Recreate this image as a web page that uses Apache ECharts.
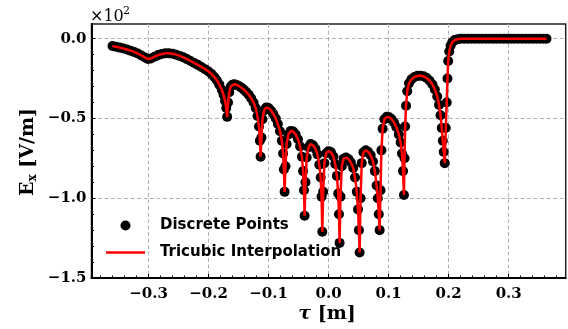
<!DOCTYPE html>
<html>
<head>
<meta charset="utf-8">
<script src="https://cdn.jsdelivr.net/npm/echarts@6/dist/echarts.min.js"></script>
<style>
html,body{margin:0;padding:0;background:#fff;}
#c{width:568px;height:329px;}
</style>
</head>
<body>
<div id="c"></div>
<script>
// tau [m]
const tau = [
-0.360,-0.354,-0.348,-0.342,-0.336,-0.330,-0.324,-0.318,-0.312,-0.306,-0.301,-0.296,-0.290,-0.284,-0.278,-0.272,-0.266,-0.260,-0.254,-0.248,-0.242,-0.236,-0.230,-0.224,-0.218,-0.212,-0.206,-0.200,-0.195,-0.190,-0.186,-0.182,-0.178,-0.175,-0.1725,-0.1705,-0.169,
-0.1675,-0.1655,-0.163,-0.160,-0.157,-0.153,-0.149,-0.145,-0.141,-0.137,-0.133,-0.129,-0.125,-0.1215,-0.1185,-0.116,-0.1145,-0.1133,
-0.1118,-0.1102,-0.1075,-0.104,-0.100,-0.096,-0.092,-0.088,-0.0845,-0.081,-0.078,-0.0758,-0.0745,-0.0733,
-0.0718,-0.0700,-0.0670,-0.0630,-0.0590,-0.0550,-0.0510,-0.0475,-0.0445,-0.0425,-0.0410,-0.0400,
-0.0385,-0.0365,-0.0335,-0.0300,-0.0260,-0.0220,-0.0185,-0.0155,-0.0132,-0.0117,-0.0105,
-0.0090,-0.0070,-0.0040,0.0000,0.0040,0.0080,0.0110,0.0138,0.0160,0.0173,0.0183,
0.0198,0.0220,0.0250,0.0290,0.0330,0.0370,0.0410,0.0440,0.0470,0.0490,0.0505,0.0517,
0.0532,0.0552,0.0580,0.0620,0.0660,0.0700,0.0740,0.0770,0.0800,0.0820,0.0836,0.0850,
0.0865,0.0880,0.0900,0.0930,0.0970,0.1010,0.1050,0.1090,0.1130,0.1170,0.1200,0.1222,0.1240,0.1255,
0.1265,0.1275,0.1290,0.1310,0.1340,0.1380,0.1430,0.1480,0.1530,0.1580,0.1630,0.1680,0.1730,0.1770,0.1810,0.1840,0.1865,0.1885,0.1903,0.1918,0.1935,
0.1952,0.1968,0.1980,0.1992,0.2010,0.2032,0.2060,0.2100,0.2150,0.2200,
0.226,0.232,0.238,0.244,0.250,0.256,0.262,0.268,0.274,0.280,0.286,0.292,0.298,0.304,0.310,0.316,0.322,0.328,0.334,0.340,0.346,0.352,0.358,0.363
];
// E_x [x10^2 V/m]
const ex = [
-0.046,-0.051,-0.056,-0.062,-0.068,-0.075,-0.083,-0.093,-0.105,-0.118,-0.127,-0.124,-0.113,-0.103,-0.096,-0.092,-0.092,-0.095,-0.100,-0.108,-0.117,-0.128,-0.140,-0.152,-0.164,-0.177,-0.191,-0.206,-0.222,-0.242,-0.262,-0.288,-0.320,-0.352,-0.390,-0.435,-0.490,
-0.400,-0.335,-0.300,-0.288,-0.285,-0.290,-0.298,-0.308,-0.320,-0.335,-0.352,-0.373,-0.400,-0.435,-0.485,-0.550,-0.640,-0.740,
-0.620,-0.505,-0.450,-0.432,-0.435,-0.450,-0.472,-0.500,-0.535,-0.580,-0.640,-0.720,-0.820,-0.960,
-0.800,-0.660,-0.600,-0.578,-0.582,-0.600,-0.630,-0.675,-0.740,-0.830,-0.950,-1.110,
-0.900,-0.745,-0.680,-0.660,-0.668,-0.690,-0.725,-0.790,-0.870,-0.990,-1.210,
-0.960,-0.780,-0.718,-0.705,-0.712,-0.738,-0.785,-0.860,-0.970,-1.100,-1.280,
-0.990,-0.800,-0.752,-0.745,-0.755,-0.775,-0.810,-0.870,-0.960,-1.070,-1.200,-1.340,
-1.000,-0.780,-0.712,-0.700,-0.710,-0.730,-0.770,-0.830,-0.920,-1.000,-1.100,-1.200,
-0.950,-0.700,-0.565,-0.505,-0.490,-0.493,-0.505,-0.525,-0.555,-0.600,-0.650,-0.720,-0.830,-0.980,
-0.750,-0.550,-0.420,-0.330,-0.280,-0.255,-0.240,-0.233,-0.232,-0.236,-0.245,-0.262,-0.287,-0.318,-0.362,-0.415,-0.480,-0.560,-0.640,-0.710,-0.780,
-0.560,-0.400,-0.250,-0.140,-0.080,-0.044,-0.022,-0.009,-0.003,0.000,
0.000,0.000,0.000,0.000,0.000,0.000,0.000,0.000,0.000,0.000,0.000,0.000,0.000,0.000,0.000,0.000,0.000,0.000,0.000,0.000,0.000,0.000,0.000,0.000
];
const xMajorTicks = [-0.3,-0.2,-0.1,0.0,0.1,0.2,0.3];
const xMinorTicks = [-0.38,-0.36,-0.34,-0.32,-0.28,-0.26,-0.24,-0.22,-0.18,-0.16,-0.14,-0.12,-0.08,-0.06,-0.04,-0.02,0.02,0.04,0.06,0.08,0.12,0.14,0.16,0.18,0.22,0.24,0.26,0.28,0.32,0.34,0.36,0.38];
const yMajorTicks = [-1.5,-1.0,-0.5,0.0];
const yMinorTicks = [-1.4,-1.3,-1.2,-1.1,-0.9,-0.8,-0.7,-0.6,-0.4,-0.3,-0.2,-0.1];
const seriesNames = ['Discrete Points','Tricubic Interpolation'];

const pts = tau.map((t,i)=>[t, ex[i]]);
const fmt = v => { const s = Math.abs(v).toFixed(1); return (v < -1e-9 ? '\u2212' : '') + s; };
const serif = "'DejaVu Serif', serif";
const sans = "'DejaVu Sans', sans-serif";
const gridLine = {show:true, lineStyle:{color:'#b0b0b0', width:1, type:[4,2.5]}};
const chart = echarts.init(document.getElementById('c'), null, {renderer:'canvas'});
const G = {left:91.5, top:24, width:474.2, height:254};
chart.setOption({
  animation:false,
  backgroundColor:'#fff',
  grid:[{left:G.left, top:G.top, width:G.width, height:G.height, show:true, borderColor:'#222', borderWidth:1.5, backgroundColor:'transparent'}],
  xAxis:[
    {type:'value', min:-0.395, max:0.395, position:'bottom',
     axisLine:{show:true, onZero:false, lineStyle:{color:'#000', width:2}},
     axisTick:{show:true, inside:true, length:4, customValues:xMajorTicks, lineStyle:{color:'#000', width:1}},
     axisLabel:{show:true, customValues:xMajorTicks, formatter:fmt, margin:9, color:'#000', fontFamily:serif, fontWeight:'bold', fontSize:15},
     splitLine:gridLine},
    {type:'value', min:-0.395, max:0.395, position:'bottom',
     axisLine:{show:false, onZero:false},
     axisTick:{show:true, inside:true, length:2.5, customValues:xMinorTicks, lineStyle:{color:'#000', width:1}},
     axisLabel:{show:false}, splitLine:{show:false}}
  ],
  yAxis:[
    {type:'value', min:-1.5, max:0.092, position:'left',
     axisLine:{show:true, onZero:false, lineStyle:{color:'#000', width:2}},
     axisTick:{show:true, inside:true, length:4, customValues:yMajorTicks, lineStyle:{color:'#000', width:1}},
     axisLabel:{show:true, customValues:yMajorTicks, formatter:fmt, margin:5, color:'#000', fontFamily:serif, fontWeight:'bold', fontSize:15},
     splitLine:gridLine},
    {type:'value', min:-1.5, max:0.092, position:'left',
     axisLine:{show:false, onZero:false},
     axisTick:{show:true, inside:true, length:2.5, customValues:yMinorTicks, lineStyle:{color:'#000', width:1}},
     axisLabel:{show:false}, splitLine:{show:false}}
  ],
  legend:{
    orient:'vertical', left:106, top:218, padding:0, itemGap:12,
    itemWidth:39, itemHeight:10,
    data:[{name:seriesNames[0], icon:'circle', itemStyle:{color:'#000', opacity:1}},
          {name:seriesNames[1], icon:'path://M0,0L39,0L39,2.5L0,2.5Z', itemStyle:{color:'#ff0000'}}],
    textStyle:{fontFamily:sans, fontWeight:'bold', fontSize:15, color:'#000', padding:[0,0,0,10]}
  },
  series:[
    {name:seriesNames[0], type:'scatter', xAxisIndex:0, yAxisIndex:0, data:pts,
     symbol:'circle', symbolSize:10, itemStyle:{color:'#000', opacity:1}, z:2, silent:true},
    {name:seriesNames[1], type:'line', xAxisIndex:0, yAxisIndex:0, data:pts,
     symbol:'none', showSymbol:false, smooth:false, lineStyle:{color:'#ff0000', width:2.5}, itemStyle:{color:'#ff0000'}, z:3, silent:true}
  ],
  graphic:[
    {type:'text', left:90, top:9, style:{text:'\u00d710', font:"16px 'DejaVu Serif', serif", fill:'#000'}},
    {type:'text', left:123, top:6, style:{text:'2', font:"11px 'DejaVu Serif', serif", fill:'#000'}},
    {type:'text', x:28, y:152, rotation:Math.PI/2,
     style:{text:'{b|E}{s|x}{b| [V/m]}', align:'center', verticalAlign:'middle',
       rich:{b:{fontFamily:serif, fontWeight:'bold', fontSize:19, fill:'#000', lineHeight:22},
             s:{fontFamily:serif, fontWeight:'bold', fontSize:12, fill:'#000', lineHeight:10, verticalAlign:'bottom'}}}},
    {type:'text', x:327, y:314,
     style:{text:'{t|\u03c4}{b| [m]}', align:'center', verticalAlign:'middle',
       rich:{t:{fontFamily:serif, fontStyle:'italic', fontWeight:'bold', fontSize:19, fill:'#000'},
             b:{fontFamily:serif, fontWeight:'bold', fontSize:19, fill:'#000'}}}}
  ]
});
</script>
</body>
</html>
